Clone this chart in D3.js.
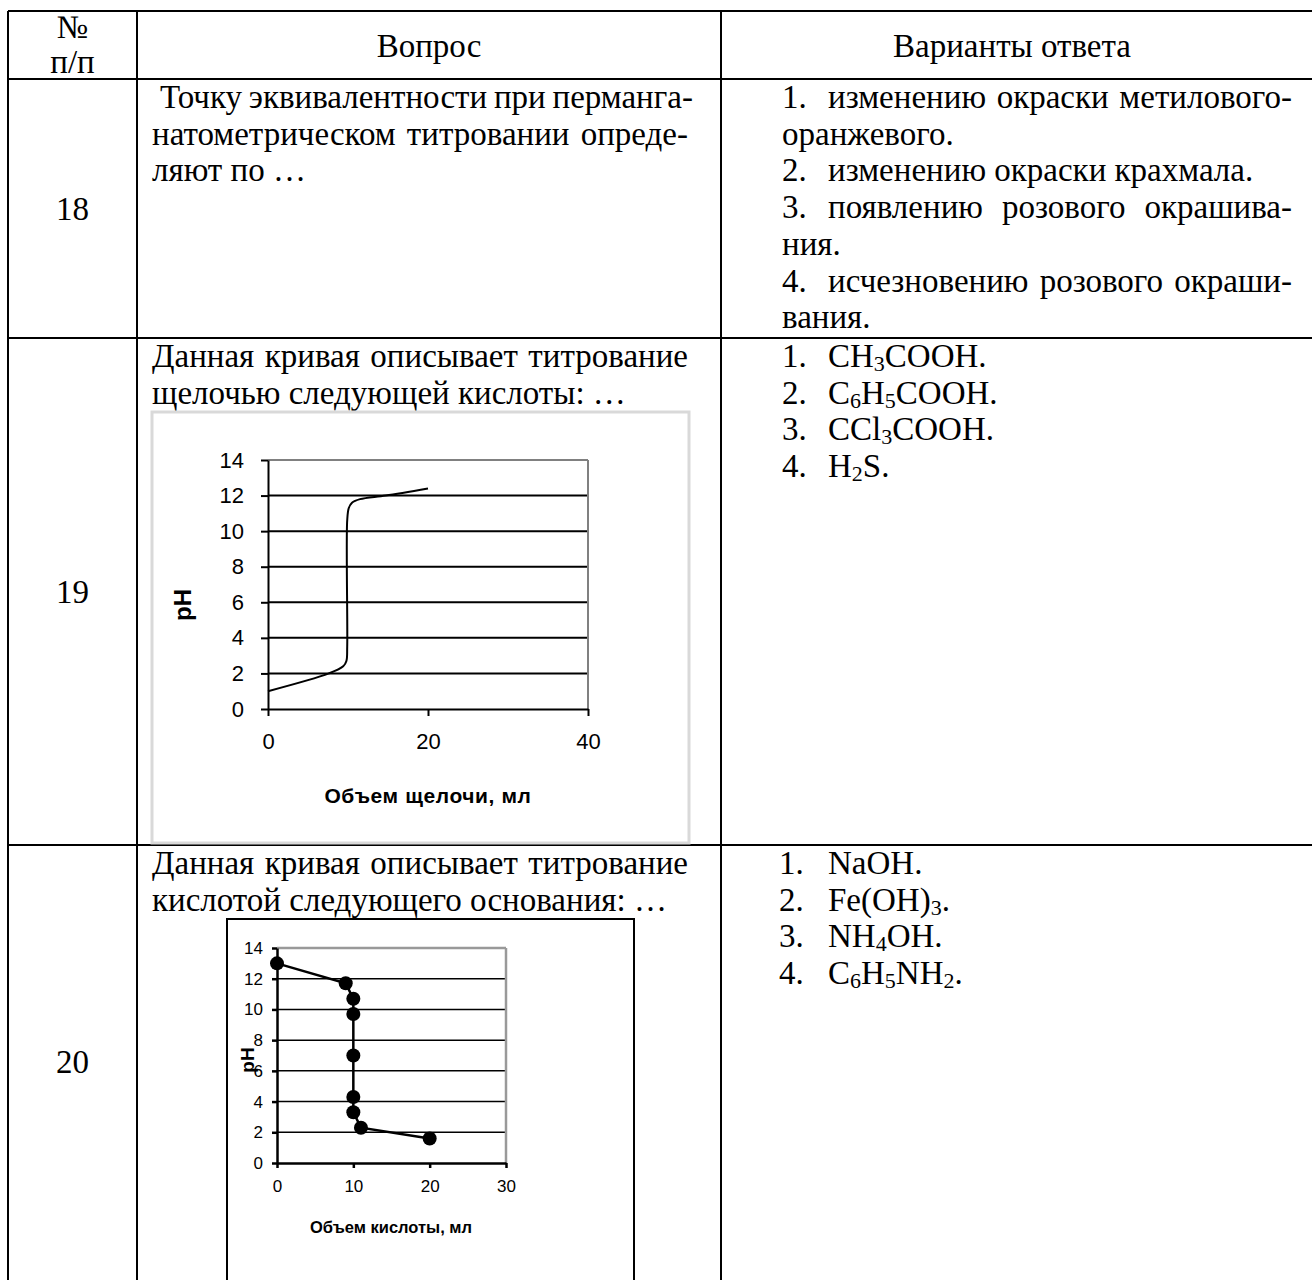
<!DOCTYPE html>
<html>
<head>
<meta charset="utf-8">
<script src="https://cdn.jsdelivr.net/npm/d3@7"></script>
<style>
  body { margin: 0; background: #fff; }
</style>
</head>
<body>
<div id="page"></div>
<script>
// ---- data ----
var headNum = ["№", "п/п"];
var headQuestion = "Вопрос";
var headAnswers = "Варианты ответа";
var rowNumbers = ["18", "19", "20"];

var q18 = [" Точку эквивалентности при перманга-", "натометрическом титровании опреде-", "ляют по …"];
var a18 = [["1.", "изменению окраски метилового-"], ["", "оранжевого."], ["2.", "изменению окраски крахмала."],
           ["3.", "появлению розового окрашива-"], ["", "ния."], ["4.", "исчезновению розового окраши-"], ["", "вания."]];
var q19 = ["Данная кривая описывает титрование", "щелочью следующей кислоты: …"];
var a19 = ["CH{3}COOH.", "C{6}H{5}COOH.", "CCl{3}COOH.", "H{2}S."];
var q20 = ["Данная кривая описывает титрование", "кислотой следующего основания: …"];
var a20 = ["NaOH.", "Fe(OH){3}.", "NH{4}OH.", "C{6}H{5}NH{2}."];

var phTicks = [0, 2, 4, 6, 8, 10, 12, 14];
var alkaliTicks = [0, 20, 40];
var alkaliVol = [0, 7.6, 9.4, 9.8, 9.9, 9.9, 10.1, 10.5, 11.5, 14.7, 20];
var alkaliPH = [1, 2.0, 2.4, 2.7, 3.5, 10.6, 11.3, 11.6, 11.8, 12.0, 12.4];
var alkaliTitle = "Объем щелочи, мл";

var acidTicks = [0, 10, 20, 30];
var acidVol = [0, 9, 10, 10, 10, 10, 10, 11, 20];
var acidPH = [13, 11.7, 10.7, 9.7, 7, 4.3, 3.3, 2.3, 1.6];
var acidTitle = "Объем кислоты, мл";

// ---- page ----
var W = 1312, H = 1280;
var serif = "'Liberation Serif', 'Times New Roman', serif";
var fs = 33, lh = 36.7;

var svg = d3.select("#page").append("svg")
  .attr("width", W)
  .attr("height", H)
  .style("display", "block");

// table grid
var colX = [8, 137, 721, 1330];
var rowY = [11, 79, 338, 845, 1300];
var grid = svg.append("g").attr("stroke", "#000").attr("stroke-width", 2);
colX.forEach(x => grid.append("line").attr("x1", x).attr("x2", x).attr("y1", rowY[0]).attr("y2", rowY[4]));
rowY.forEach(y => grid.append("line").attr("x1", colX[0]).attr("x2", colX[3]).attr("y1", y).attr("y2", y));

function txt(x, y, s, anchor) {
  return svg.append("text")
    .attr("x", x).attr("y", y)
    .attr("text-anchor", anchor || "start")
    .attr("font-family", serif)
    .attr("font-size", fs)
    .attr("fill", "#000")
    .style("white-space", "pre")
    .text(s);
}

// justified line: adjust word gaps so the line ends at right
function just(x, y, s, right) {
  var lead = s.match(/^ */)[0].length;
  var x0 = x + lead * 8;
  var t = txt(x0, y, s.trim());
  var gaps = (s.trim().match(/ /g) || []).length;
  var w = t.node().getComputedTextLength();
  if (gaps) t.attr("word-spacing", Math.max(-1.5, (right - x0 - w) / gaps));
  return t;
}

// chemical formula, digits in {} become subscripts
function formula(x, y, s) {
  var t = svg.append("text")
    .attr("x", x).attr("y", y)
    .attr("font-family", serif)
    .attr("font-size", fs)
    .attr("fill", "#000");
  var low = false;
  s.split(/(\{\d+\})/).forEach(part => {
    if (!part) return;
    var m = part.match(/^\{(\d+)\}$/);
    if (m) {
      t.append("tspan").attr("font-size", 22).attr("dy", low ? 0 : 4).text(m[1]);
      low = true;
    } else {
      t.append("tspan").attr("dy", low ? -4 : 0).text(part);
      low = false;
    }
  });
  return t;
}

// header
txt(72.5, 38, headNum[0], "middle");
txt(72.5, 73, headNum[1], "middle");
txt((colX[1] + colX[2]) / 2, 57, headQuestion, "middle");
txt(1012, 57, headAnswers, "middle");

// row numbers
txt(72.5, (rowY[1] + rowY[2]) / 2 + 11, rowNumbers[0], "middle");
txt(72.5, (rowY[2] + rowY[3]) / 2 + 11, rowNumbers[1], "middle");
txt(72.5, 1073, rowNumbers[2], "middle");

// question texts (justified except the last line)
var qRight = 688;
[q18, q19, q20].forEach((q, r) => {
  q.forEach((s, i) => {
    var y = rowY[r + 1] + 29 + i * lh;
    if (i < q.length - 1) just(152, y, s, qRight);
    else txt(152, y, s);
  });
});

// answers
var numX = 782, ansX = 828, aRight = 1292;
a18.forEach((d, i) => {
  var y = rowY[1] + 29 + i * lh;
  var wraps = i + 1 < a18.length && !a18[i + 1][0];
  if (d[0]) {
    txt(numX, y, d[0]);
    if (wraps) just(ansX, y, d[1], aRight); else txt(ansX, y, d[1]);
  } else txt(numX, y, d[1]);
});
a19.forEach((s, i) => {
  var y = rowY[2] + 29 + i * lh;
  txt(numX, y, (i + 1) + ".");
  formula(ansX, y, s);
});
a20.forEach((s, i) => {
  var y = rowY[3] + 29 + i * lh;
  txt(numX - 3, y, (i + 1) + ".");
  formula(ansX, y, s);
});

// ---- chart 1: titration with alkali ----
svg.append("rect")
  .attr("x", 152).attr("y", 412).attr("width", 537).attr("height", 431)
  .attr("fill", "none").attr("stroke", "#d9d9d9").attr("stroke-width", 3);

(function () {
  var sans = "'Liberation Sans', Arial, sans-serif";
  var x = d3.scaleLinear().domain([0, 40]).range([268, 588]);
  var y = d3.scaleLinear().domain([0, 14]).range([709, 460]);
  var g = svg.append("g");

  g.selectAll("line.grid").data(phTicks.filter(v => v > 0 && v < 14)).enter().append("line")
    .attr("x1", x(0)).attr("x2", x(40)).attr("y1", d => y(d)).attr("y2", d => y(d))
    .attr("stroke", "#000").attr("stroke-width", 2);
  g.append("line").attr("x1", x(0)).attr("x2", x(40)).attr("y1", y(14)).attr("y2", y(14))
    .attr("stroke", "#808080").attr("stroke-width", 2);
  g.append("line").attr("x1", x(40)).attr("x2", x(40)).attr("y1", y(14)).attr("y2", y(0))
    .attr("stroke", "#808080").attr("stroke-width", 2);

  var ya = g.append("g").attr("transform", `translate(${x(0)},0)`)
    .call(d3.axisLeft(y).tickValues(phTicks).tickSize(7).tickSizeOuter(0).tickPadding(17));
  var xa = g.append("g").attr("transform", `translate(0,${y(0)})`)
    .call(d3.axisBottom(x).tickValues(alkaliTicks).tickSize(7).tickSizeOuter(0).tickPadding(17));
  [ya, xa].forEach(a => {
    a.selectAll("path, line").attr("stroke", "#000").attr("stroke-width", 2);
    a.selectAll("text").attr("font-family", sans).attr("font-size", 22).attr("fill", "#000");
  });

  var pts = alkaliVol.map((v, i) => [v, alkaliPH[i]]);
  g.append("path").datum(pts)
    .attr("d", d3.line().x(d => x(d[0])).y(d => y(d[1])).curve(d3.curveCatmullRom.alpha(0.5)))
    .attr("fill", "none").attr("stroke", "#000").attr("stroke-width", 2);

  g.append("text")
    .attr("transform", "translate(191,605) rotate(-90)")
    .attr("text-anchor", "middle")
    .attr("font-family", sans).attr("font-weight", "bold").attr("font-size", 24)
    .text("pH");
  g.append("text")
    .attr("x", 428).attr("y", 803)
    .attr("text-anchor", "middle")
    .attr("font-family", sans).attr("font-weight", "bold").attr("font-size", 21)
    .attr("letter-spacing", 0.6)
    .text(alkaliTitle);
})();

// ---- chart 2: titration with acid ----
svg.append("rect")
  .attr("x", 227).attr("y", 919).attr("width", 407).attr("height", 420)
  .attr("fill", "none").attr("stroke", "#000").attr("stroke-width", 2);

(function () {
  var narrow = "'Liberation Sans Narrow', 'Arial Narrow', sans-serif";
  var x = d3.scaleLinear().domain([0, 30]).range([277, 506]);
  var y = d3.scaleLinear().domain([0, 14]).range([1163, 948]);
  var g = svg.append("g");

  g.selectAll("line.grid").data(phTicks.filter(v => v > 0 && v < 14)).enter().append("line")
    .attr("x1", x(0)).attr("x2", x(30)).attr("y1", d => y(d)).attr("y2", d => y(d))
    .attr("stroke", "#000").attr("stroke-width", 1.5);
  g.append("line").attr("x1", x(0)).attr("x2", x(30)).attr("y1", y(14)).attr("y2", y(14))
    .attr("stroke", "#999").attr("stroke-width", 2.5);
  g.append("line").attr("x1", x(30)).attr("x2", x(30)).attr("y1", y(14)).attr("y2", y(0))
    .attr("stroke", "#999").attr("stroke-width", 2.5);

  var ya = g.append("g").attr("transform", `translate(${x(0)},0)`)
    .call(d3.axisLeft(y).tickValues(phTicks).tickSize(5).tickSizeOuter(0).tickPadding(9));
  var xa = g.append("g").attr("transform", `translate(0,${y(0)})`)
    .call(d3.axisBottom(x).tickValues(acidTicks).tickSize(5).tickSizeOuter(0).tickPadding(12));
  [ya, xa].forEach(a => {
    a.selectAll("path, line").attr("stroke", "#000").attr("stroke-width", 2.5);
    a.selectAll("text").attr("font-family", narrow).attr("font-size", 17).attr("fill", "#000");
  });

  var pts = acidVol.map((v, i) => [v, acidPH[i]]);
  g.append("path").datum(pts)
    .attr("d", d3.line().x(d => x(d[0])).y(d => y(d[1])))
    .attr("fill", "none").attr("stroke", "#000").attr("stroke-width", 2.5);
  g.selectAll("circle").data(pts).enter().append("circle")
    .attr("cx", d => x(d[0])).attr("cy", d => y(d[1])).attr("r", 7)
    .attr("fill", "#000");

  g.append("text")
    .attr("transform", "translate(254,1060) rotate(-90)")
    .attr("text-anchor", "middle")
    .attr("font-family", narrow).attr("font-weight", "bold").attr("font-size", 19)
    .text("pH");
  g.append("text")
    .attr("x", 391).attr("y", 1233)
    .attr("text-anchor", "middle")
    .attr("font-family", narrow).attr("font-weight", "bold").attr("font-size", 16.5)
    .text(acidTitle);
})();
</script>
</body>
</html>
